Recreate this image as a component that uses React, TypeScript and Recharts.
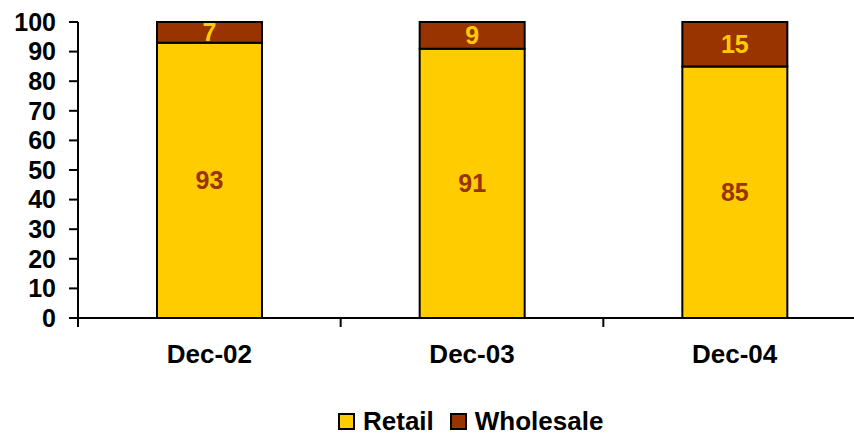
import { BarChart, Bar, XAxis, YAxis, Legend, LabelList } from 'recharts';

const periods = ['Dec-02', 'Dec-03', 'Dec-04'];
const retail = [93, 91, 85];
const wholesale = [7, 9, 15];
const yTicks = [0, 10, 20, 30, 40, 50, 60, 70, 80, 90, 100];

const RETAIL = '#ffcc00';
const WHOLESALE = '#993300';
const FONT = '"Liberation Sans", Arial, sans-serif';

const CHART_W = 870;
const MARGIN = { top: 22, right: 4, left: 8, bottom: 0 };
const Y_W = 70;
const BAND = (CHART_W - MARGIN.left - MARGIN.right - Y_W) / periods.length;

const data = periods.map((p, i) => ({ period: p, retail: retail[i], wholesale: wholesale[i] }));

function XTick(props: any) {
  const { x, y, payload } = props;
  const edge = x - BAND / 2;
  return (
    <g>
      <line x1={edge} y1={y - 8} x2={edge} y2={y + 1} stroke="#000" strokeWidth={2} />
      <text
        x={x}
        y={y + 37}
        textAnchor="middle"
        fontFamily={FONT}
        fontWeight="bold"
        fontSize={26}
        fill="#000"
      >
        {payload.value}
      </text>
    </g>
  );
}

function LegendBox() {
  const items = [
    { name: 'Retail', color: RETAIL },
    { name: 'Wholesale', color: WHOLESALE },
  ];
  return (
    <div
      style={{
        height: 42,
        display: 'flex',
        alignItems: 'center',
        paddingLeft: 330,
        paddingTop: 16,
        boxSizing: 'border-box',
        fontFamily: FONT,
        fontWeight: 'bold',
        fontSize: 26,
        color: '#000',
      }}
    >
      {items.map((it) => (
        <div key={it.name} style={{ display: 'flex', alignItems: 'center', marginRight: 16 }}>
          <span
            style={{
              width: 13,
              height: 13,
              background: it.color,
              border: '2px solid #000',
              marginRight: 8,
              display: 'inline-block',
            }}
          />
          <span>{it.name}</span>
        </div>
      ))}
    </div>
  );
}

export default function App() {
  return (
    <div
      style={{
        position: 'fixed',
        left: 0,
        top: 0,
        width: 854,
        height: 434,
        overflow: 'hidden',
        background: '#fff',
      }}
    >
      <BarChart width={CHART_W} height={434} data={data} margin={MARGIN} barCategoryGap={0}>
        <YAxis
          width={Y_W}
          domain={[0, 100]}
          ticks={yTicks}
          interval={0}
          axisLine={{ stroke: '#000', strokeWidth: 2 }}
          tickLine={{ stroke: '#000', strokeWidth: 2 }}
          tickSize={9}
          tickMargin={13}
          tick={{ fill: '#000', fontFamily: FONT, fontWeight: 'bold', fontSize: 25 }}
        />
        <XAxis
          dataKey="period"
          height={74}
          axisLine={{ stroke: '#000', strokeWidth: 2 }}
          tickLine={false}
          tick={<XTick />}
          interval={0}
        />
        <Legend verticalAlign="bottom" content={() => <LegendBox />} />
        <Bar
          dataKey="retail"
          stackId="a"
          fill={RETAIL}
          stroke="#000"
          strokeWidth={2}
          barSize={105}
          isAnimationActive={false}
        >
          <LabelList
            dataKey="retail"
            position="center"
            fill={WHOLESALE}
            style={{ fontFamily: FONT, fontWeight: 'bold', fontSize: 25 }}
          />
        </Bar>
        <Bar
          dataKey="wholesale"
          stackId="a"
          fill={WHOLESALE}
          stroke="#000"
          strokeWidth={2}
          barSize={105}
          isAnimationActive={false}
        >
          <LabelList
            dataKey="wholesale"
            position="center"
            fill={RETAIL}
            style={{ fontFamily: FONT, fontWeight: 'bold', fontSize: 25 }}
          />
        </Bar>
      </BarChart>
    </div>
  );
}
